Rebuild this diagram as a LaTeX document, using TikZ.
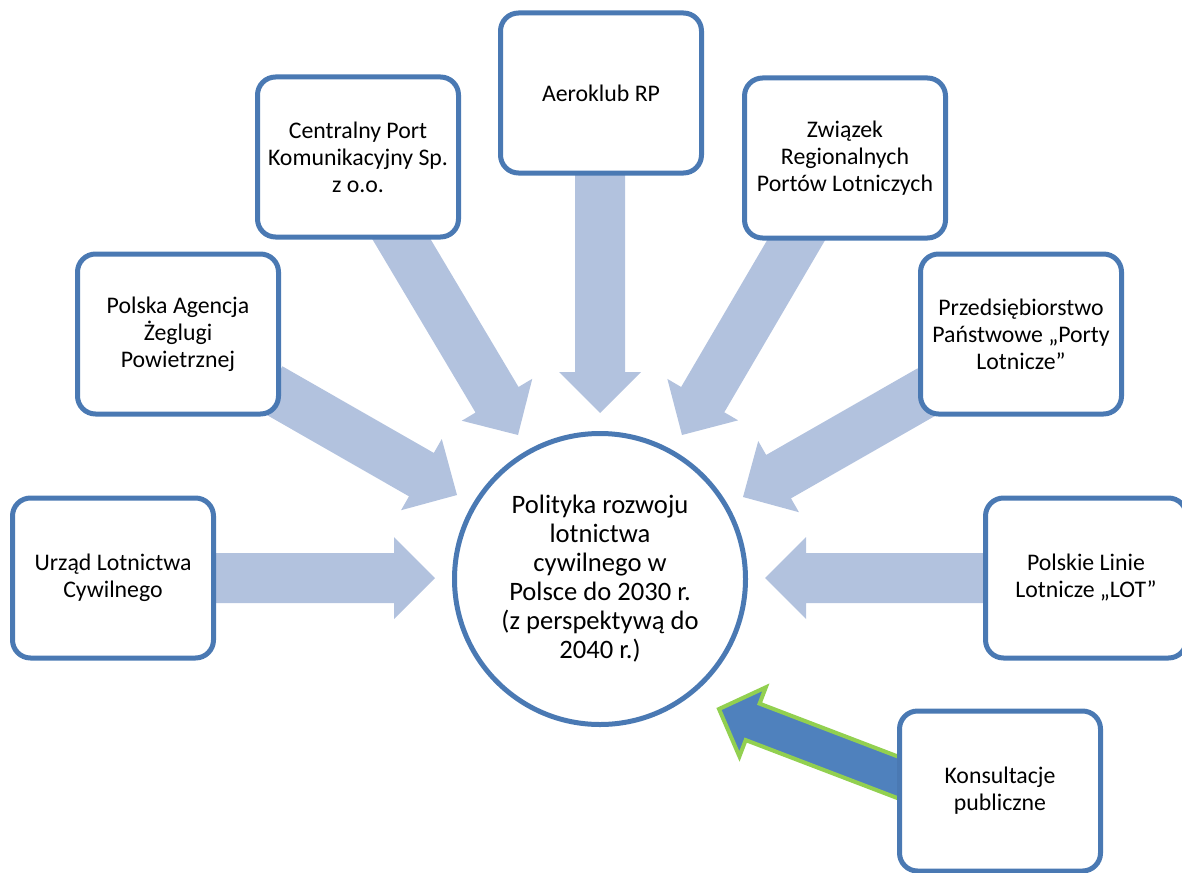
\documentclass[tikz,border=0pt]{standalone}
\usepackage{fontspec}
\setmainfont{Carlito}
\usetikzlibrary{calc,backgrounds}
\definecolor{boxblue}{HTML}{4A79B3}
\definecolor{arrowlight}{HTML}{B2C2DE}
\definecolor{arrowdark}{HTML}{4F81BD}
\definecolor{arrowgreen}{HTML}{92D050}
% #1 start, #2 tip, #3 half shaft, #4 half head, #5 head length, #6 style
\newcommand\fatarrow[6]{%
  \coordinate (hb) at ($(#2)!#5!(#1)$);
  \path[#6] ($(#1)!#3!90:(#2)$) -- ($(hb)!#3!90:(#2)$) -- ($(hb)!#4!90:(#2)$) -- (#2)
    -- ($(hb)!#4!-90:(#2)$) -- ($(hb)!#3!-90:(#2)$) -- ($(#1)!#3!-90:(#2)$) -- cycle;}
\begin{document}
\begin{tikzpicture}[x=1pt,y=-1pt,
  box/.style={draw=boxblue,line width=5pt,fill=white,rounded corners=18pt,
    minimum width=201pt,minimum height=160pt,align=center,inner sep=0pt,
    font=\fontsize{23.8}{27}\selectfont},
  hub/.style={circle,draw=boxblue,line width=5pt,fill=white,minimum size=291pt,
    align=center,inner sep=0pt,font=\fontsize{26.6}{29}\selectfont},
  lightarrow/.style={fill=arrowlight},
  darkarrow/.style={fill=arrowdark,draw=arrowgreen,line width=4pt,line join=miter}]
\useasboundingbox (0,0) rectangle (1182,872);

\node[hub] (hubc) at (600,579) {Polityka rozwoju\\lotnictwa\\cywilnego w\\Polsce do 2030 r.\\(z perspektywą do\\2040 r.)};

\node[box] (urzad) at (113,578) {Urząd Lotnictwa\\Cywilnego};
\node[box] (pansa) at (178,334) {Polska Agencja\\Żeglugi\\Powietrznej};
\node[box] (cpk) at (358,157) {Centralny Port\\Komunikacyjny Sp.\\z o.o.};
\node[box] (aero) at (601,93) {Aeroklub RP};
\node[box] (zrpl) at (845,158) {Związek\\Regionalnych\\Portów Lotniczych};
\node[box] (ppl) at (1021,334) {Przedsiębiorstwo\\Państwowe „Porty\\Lotnicze”};
\node[box] (lot) at (1086,578) {Polskie Linie\\Lotnicze „LOT”};
\node[box] (kons) at (1000,791) {Konsultacje\\publiczne};

\coordinate (s1) at (200,578);  \coordinate (t1) at (435,578);
\coordinate (s2) at (270,388);  \coordinate (t2) at (457,495);
\coordinate (s3) at (393,225);  \coordinate (t3) at (518,435);
\coordinate (s4) at (600,160);  \coordinate (t4) at (600,413);
\coordinate (s5) at (805,225);  \coordinate (t5) at (682,435);
\coordinate (s6) at (930,390);  \coordinate (t6) at (743,497);
\coordinate (s7) at (1000,578); \coordinate (t7) at (765,578);
\coordinate (s8) at (910,782);  \coordinate (t8) at (719,709);

\begin{scope}[on background layer]
\fatarrow{s1}{t1}{25pt}{41pt}{41pt}{lightarrow}
\fatarrow{s2}{t2}{25pt}{41pt}{41pt}{lightarrow}
\fatarrow{s3}{t3}{25pt}{41pt}{41pt}{lightarrow}
\fatarrow{s4}{t4}{25pt}{41pt}{41pt}{lightarrow}
\fatarrow{s5}{t5}{25pt}{41pt}{41pt}{lightarrow}
\fatarrow{s6}{t6}{25pt}{41pt}{41pt}{lightarrow}
\fatarrow{s7}{t7}{25pt}{41pt}{41pt}{lightarrow}
\fatarrow{s8}{t8}{19.5pt}{37pt}{36pt}{darkarrow}
\end{scope}
\end{tikzpicture}
\end{document}
